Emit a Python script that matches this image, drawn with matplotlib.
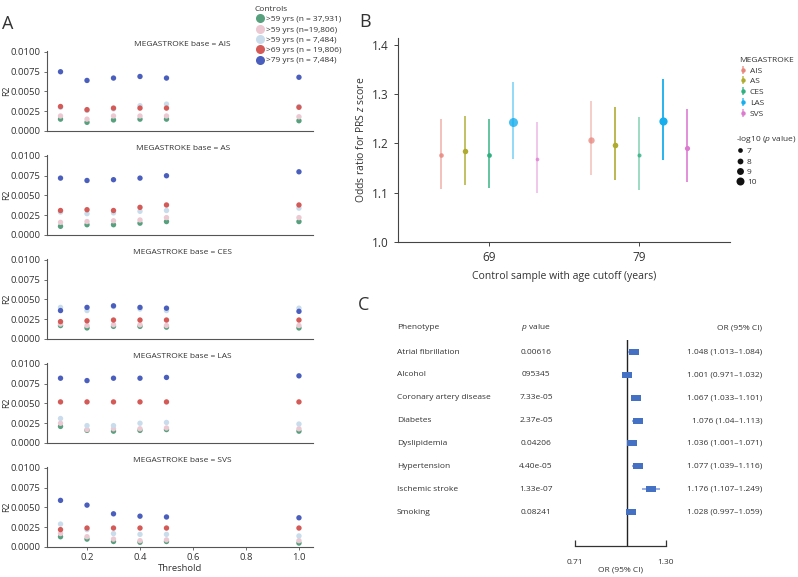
import numpy as np
import matplotlib.pyplot as plt
from matplotlib import transforms
from matplotlib.lines import Line2D
from matplotlib.ticker import NullLocator

plt.rcParams['font.family'] = ['Open Sans', 'DejaVu Sans']
plt.rcParams['mathtext.fontset'] = 'custom'
plt.rcParams['mathtext.rm'] = 'Open Sans'
plt.rcParams['mathtext.it'] = 'Open Sans:italic'

txt = '#333333'

# ---- panel A data: R2 by p-value threshold, one list per control group
thresholds = [0.1, 0.2, 0.3, 0.4, 0.5, 1.0]
control_labels = ['>59 yrs (n = 37,931)', '>59 yrs (n=19,806)', '>59 yrs (n = 7,484)',
                  '>69 yrs (n = 19,806)', '>79 yrs (n = 7,484)']
control_colors = ['#56a07e', '#ebc8d2', '#c8dcec', '#d45a57', '#4a5ebd']
bases = ['AIS', 'AS', 'CES', 'LAS', 'SVS']

r2_ais = [[0.0015, 0.0011, 0.0014, 0.0015, 0.0015, 0.0013],
          [0.0019, 0.0015, 0.0019, 0.0019, 0.0019, 0.0018],
          [0.0030, 0.0026, 0.0028, 0.0032, 0.0034, 0.0031],
          [0.0031, 0.0027, 0.0029, 0.0029, 0.0029, 0.0030],
          [0.0075, 0.0064, 0.0067, 0.0069, 0.0067, 0.0068]]
r2_as = [[0.0011, 0.0013, 0.0013, 0.0015, 0.0017, 0.0017],
         [0.0016, 0.0017, 0.0018, 0.0019, 0.0022, 0.0022],
         [0.0029, 0.0027, 0.0028, 0.0030, 0.0031, 0.0034],
         [0.0031, 0.0032, 0.0031, 0.0035, 0.0038, 0.0038],
         [0.0072, 0.0069, 0.0070, 0.0072, 0.0075, 0.0080]]
r2_ces = [[0.0017, 0.0014, 0.0016, 0.0016, 0.0015, 0.0014],
          [0.0019, 0.0017, 0.0018, 0.0018, 0.0017, 0.0017],
          [0.0040, 0.0036, 0.0041, 0.0038, 0.0036, 0.0039],
          [0.0022, 0.0023, 0.0024, 0.0024, 0.0024, 0.0024],
          [0.0036, 0.0040, 0.0042, 0.0040, 0.0039, 0.0035]]
r2_las = [[0.0021, 0.0016, 0.0015, 0.0016, 0.0017, 0.0015],
          [0.0025, 0.0017, 0.0018, 0.0018, 0.0019, 0.0018],
          [0.0031, 0.0022, 0.0022, 0.0025, 0.0026, 0.0024],
          [0.0052, 0.0052, 0.0052, 0.0052, 0.0052, 0.0052],
          [0.0082, 0.0079, 0.0082, 0.0082, 0.0083, 0.0085]]
r2_svs = [[0.0013, 0.0010, 0.0007, 0.0006, 0.0007, 0.0005],
          [0.0017, 0.0013, 0.0010, 0.0008, 0.0009, 0.0008],
          [0.0029, 0.0022, 0.0017, 0.0016, 0.0016, 0.0014],
          [0.0022, 0.0024, 0.0024, 0.0024, 0.0024, 0.0024],
          [0.0059, 0.0053, 0.0042, 0.0039, 0.0038, 0.0037]]
r2_all = [r2_ais, r2_as, r2_ces, r2_las, r2_svs]

# ---- panel B data
cutoffs = ['69', '79']
subtypes = ['AIS', 'AS', 'CES', 'LAS', 'SVS']
sub_colors = ['#e8867c', '#aeab2e', '#2fb07f', '#17aeee', '#dc7ad0']
or_b = [[1.176, 1.184, 1.177, 1.244, 1.168],
        [1.208, 1.196, 1.176, 1.245, 1.191]]
lo_b = [[1.107, 1.116, 1.109, 1.168, 1.099],
        [1.135, 1.125, 1.105, 1.166, 1.121]]
hi_b = [[1.249, 1.256, 1.250, 1.325, 1.244],
        [1.286, 1.274, 1.253, 1.330, 1.270]]
logp_b = [[6.9, 7.7, 7.0, 10.9, 6.1],
          [8.5, 7.8, 6.4, 10.2, 7.4]]
line_alpha = [[0.55, 0.8, 0.8, 0.5, 0.45],
              [0.45, 0.9, 0.5, 1.0, 0.9]]
size_levels = [7, 8, 9, 10]

# ---- panel C data
phenotypes = ['Atrial fibrillation', 'Alcohol', 'Coronary artery disease', 'Diabetes',
              'Dyslipidemia', 'Hypertension', 'Ischemic stroke', 'Smoking']
pvals = ['0.00616', '095345', '7.33e-05', '2.37e-05', '0.04206', '4.40e-05', '1.33e-07', '0.08241']
or_c = [1.048, 1.001, 1.067, 1.076, 1.036, 1.077, 1.176, 1.028]
lo_c = [1.013, 0.971, 1.033, 1.04, 1.001, 1.039, 1.107, 0.997]
hi_c = [1.084, 1.032, 1.101, 1.113, 1.071, 1.116, 1.249, 1.059]
or_text = ['1.048 (1.013\u20131.084)', '1.001 (0.971\u20131.032)', '1.067 (1.033\u20131.101)',
           '1.076 (1.04\u20131.113)', '1.036 (1.001\u20131.071)', '1.077 (1.039\u20131.116)',
           '1.176 (1.107\u20131.249)', '1.028 (0.997\u20131.059)']

W, H = 798, 577
fig = plt.figure(figsize=(W / 100, H / 100), dpi=100)


def px(x0, y_bottom, w, h):
    return [x0 / W, 1 - y_bottom / H, w / W, h / H]


# ================= A =================
row_bottoms = [131, 235, 339, 443, 547]
for i, base in enumerate(bases):
    ax = fig.add_axes(px(47, row_bottoms[i], 266, 79.8))
    for k in range(5):
        ax.scatter(thresholds, r2_all[i][k], s=15, color=control_colors[k],
                   edgecolor='none', zorder=2 + k)
    ax.set_xlim(0.049, 1.053)
    ax.set_ylim(0, 0.0101)
    ax.set_yticks([0, 0.0025, 0.005, 0.0075, 0.01])
    ax.set_yticklabels(['0.0000', '0.0025', '0.0050', '0.0075', '0.0100'])
    for s in ['top', 'right']:
        ax.spines[s].set_visible(False)
    for s in ['left', 'bottom']:
        ax.spines[s].set_color('#555555')
        ax.spines[s].set_linewidth(0.8)
    ax.tick_params(axis='y', labelsize=6.8, colors='#555555', labelcolor=txt, length=2.5, width=0.6, pad=2)
    ax.set_ylabel('R2', fontsize=6.3, color=txt)
    ax.yaxis.set_label_coords(-0.135, 0.5)
    ax.text(0.51, 1.085, 'MEGASTROKE base = ' + base, transform=ax.transAxes,
            ha='center', va='center', fontsize=6, color=txt)
    if i == 4:
        ax.set_xticks([0.2, 0.4, 0.6, 0.8, 1.0])
        ax.tick_params(axis='x', labelsize=6.8, colors='#555555', labelcolor=txt, length=2.5, width=0.6, pad=2)
        ax.set_xlabel('Threshold', fontsize=6.8, color=txt, labelpad=1)
    else:
        ax.set_xticks([])

handles_a = [Line2D([], [], marker='o', ls='', color=c, markersize=6.5, markeredgewidth=0)
             for c in control_colors]
leg_a = fig.legend(handles_a, control_labels, title='Controls', loc='upper left',
                   bbox_to_anchor=(249 / W, 1 - 0 / H), frameon=False, fontsize=6.0,
                   title_fontsize=6.0, handletextpad=0.1, labelspacing=0.3,
                   borderpad=0.2, handlelength=1.3, alignment='left')
for t in leg_a.get_texts():
    t.set_color(txt)
leg_a.get_title().set_color(txt)

# ================= B =================
axb = fig.add_axes(px(398, 242, 332, 204))
offsets = [-0.32, -0.16, 0.0, 0.16, 0.32]


def dot_px(p):
    return (1.1 * p - 3.0) * 0.72


for g in range(2):
    for j in range(5):
        x = g + offsets[j]
        axb.plot([x, x], [lo_b[g][j], hi_b[g][j]], color=sub_colors[j],
                 alpha=line_alpha[g][j], lw=1.3, solid_capstyle='butt')
        axb.plot([x], [or_b[g][j]], 'o', color=sub_colors[j], markeredgewidth=0,
                 markersize=dot_px(logp_b[g][j]), alpha=min(1, line_alpha[g][j] + 0.3))

axb.set_xlim(-0.61, 1.61)
axb.set_ylim(1.0, 1.414)
axb.set_xticks([0, 1])
axb.set_xticklabels(cutoffs)
axb.set_yticks([1.0, 1.1, 1.2, 1.3, 1.4])
for s in ['top', 'right']:
    axb.spines[s].set_visible(False)
for s in ['left', 'bottom']:
    axb.spines[s].set_color('#444444')
    axb.spines[s].set_linewidth(0.8)
axb.tick_params(labelsize=8.5, colors='#444444', labelcolor=txt, length=3, width=0.7)
axb.set_ylabel('Odds ratio for PRS $\\it{z}$ score', fontsize=7.5, color=txt)
axb.yaxis.set_label_coords(-0.092, 0.5)
axb.set_xlabel('Control sample with age cutoff (years)', fontsize=7.5, color=txt)
axb.xaxis.set_label_coords(0.5, -0.142)

# legend entries: short vertical bar with the dot drawn over it
handles_b = [(Line2D([], [], marker='|', ls='', color=c, markersize=6, markeredgewidth=1.1, alpha=0.8),
              Line2D([], [], marker='o', ls='', color=c, markersize=3.2, markeredgewidth=0))
             for c in sub_colors]
leg_b = fig.legend(handles_b, subtypes, title='MEGASTROKE', loc='upper left',
                   bbox_to_anchor=(733 / W, 1 - 51 / H), frameon=False, fontsize=6.0,
                   title_fontsize=6.0, handletextpad=0.3, labelspacing=0.35,
                   borderpad=0.2, handlelength=1.0, alignment='left')
handles_s = [Line2D([], [], marker='o', ls='', color='#111111', markeredgewidth=0,
                    markersize=dot_px(v)) for v in size_levels]
leg_s = fig.legend(handles_s, [str(v) for v in size_levels], title='-log10 ($\\it{p}$ value)',
                   loc='upper left', bbox_to_anchor=(731 / W, 1 - 129 / H), frameon=False,
                   fontsize=6.0, title_fontsize=6.0, handletextpad=0.3, labelspacing=0.3,
                   borderpad=0.1, handlelength=1.0, alignment='left')
for lg in (leg_b, leg_s):
    for t in lg.get_texts():
        t.set_color(txt)
    lg.get_title().set_color(txt)

# ================= C =================
axc = fig.add_axes(px(575, 546, 91, 206))
axc.set_xscale('log')
rows = np.arange(len(phenotypes))
or_arr = np.array(or_c)
xerr = [or_arr - np.array(lo_c), np.array(hi_c) - or_arr]
axc.errorbar(or_c, rows, xerr=xerr, fmt='none', ecolor='#7b96da', elinewidth=1.1, capsize=0, zorder=3)
rect = [(-1.6, -1), (1.6, -1), (1.6, 1), (-1.6, 1), (-1.6, -1)]
axc.plot(or_c, rows, ls='', marker=rect, markersize=6.5, color='#4571c4', markeredgewidth=0, zorder=4)
axc.axvline(1.0, color='#222222', lw=1.0, zorder=2)
axc.set_xlim(0.71, 1.30)
axc.set_ylim(8.487, -0.525)
axc.set_xticks([0.71, 1.30])
axc.set_xticklabels(['0.71', '1.30'])
axc.xaxis.set_minor_locator(NullLocator())
axc.set_yticks([])
for s in ['top', 'right', 'left']:
    axc.spines[s].set_visible(False)
axc.spines['bottom'].set_color('#333333')
axc.spines['bottom'].set_linewidth(0.9)
axc.tick_params(axis='x', direction='in', length=4, width=0.9, colors='#333333',
                labelcolor=txt, labelsize=6.0, pad=9)
axc.set_xlabel('OR (95% CI)', fontsize=6.0, color=txt, labelpad=1)

fs_c = 6.0
tr = transforms.blended_transform_factory(fig.transFigure, axc.transData)
axc.text(397 / W, -1.05, 'Phenotype', transform=tr, ha='left', va='center', fontsize=fs_c, color=txt)
axc.text(536 / W, -1.05, '$\\it{p}$ value', transform=tr, ha='center', va='center', fontsize=fs_c, color=txt)
axc.text(762 / W, -1.05, 'OR (95% CI)', transform=tr, ha='right', va='center', fontsize=fs_c, color=txt)
for r in rows:
    axc.text(397 / W, r, phenotypes[r], transform=tr, ha='left', va='center', fontsize=fs_c, color=txt)
    axc.text(536 / W, r, pvals[r], transform=tr, ha='center', va='center', fontsize=fs_c, color=txt)
    axc.text(762 / W, r, or_text[r], transform=tr, ha='right', va='center', fontsize=fs_c, color=txt)

# panel letters
fig.text(8 / W, 1 - 24 / H, 'A', fontsize=13, ha='center', va='center', color=txt)
fig.text(365 / W, 1 - 22 / H, 'B', fontsize=13, ha='center', va='center', color=txt)
fig.text(364 / W, 1 - 305 / H, 'C', fontsize=13, ha='center', va='center', color=txt)

fig.savefig('out.png', dpi=100)
